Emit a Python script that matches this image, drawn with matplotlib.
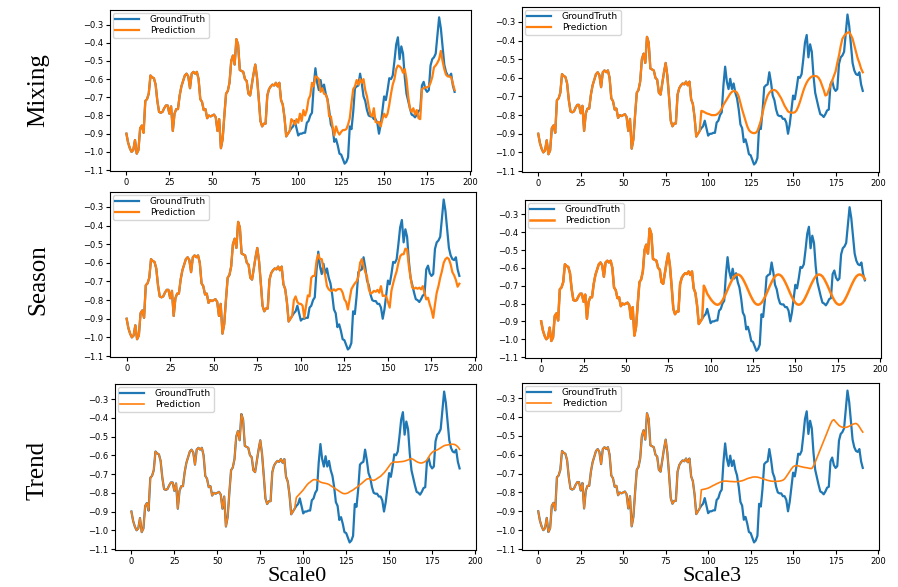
import numpy as np
import matplotlib
matplotlib.use("Agg")
import matplotlib.pyplot as plt

# ground truth, 192 steps (first 96 are the input window)
ground_truth = [
    -0.90, -0.95, -0.98, -1.00, -0.99, -0.935, -1.01, -0.99, -0.87, -0.855,
    -0.895, -0.72, -0.71, -0.68, -0.58, -0.59, -0.595, -0.63, -0.72, -0.78,
    -0.785, -0.78, -0.76, -0.745, -0.745, -0.79, -0.75, -0.885, -0.79, -0.765,
    -0.765, -0.69, -0.64, -0.61, -0.58, -0.57, -0.585, -0.65, -0.57, -0.56,
    -0.57, -0.56, -0.60, -0.71, -0.725, -0.77, -0.765, -0.815, -0.80, -0.805,
    -0.80, -0.795, -0.81, -0.885, -0.82, -0.98, -0.93, -0.80, -0.68, -0.665,
    -0.62, -0.50, -0.47, -0.52, -0.38, -0.41, -0.55, -0.555, -0.56, -0.60,
    -0.61, -0.68, -0.69, -0.63, -0.57, -0.52, -0.59, -0.705, -0.83, -0.86,
    -0.845, -0.845, -0.69, -0.655, -0.64, -0.63, -0.635, -0.62, -0.64, -0.62,
    -0.715, -0.74, -0.81, -0.915, -0.90, -0.885, -0.87, -0.86, -0.83, -0.87,
    -0.91, -0.90, -0.90, -0.895, -0.895, -0.84, -0.83, -0.80, -0.785, -0.64,
    -0.54, -0.62, -0.66, -0.605, -0.66, -0.63, -0.68, -0.71, -0.77, -0.85,
    -0.87, -0.945, -0.93, -0.965, -1.01, -1.015, -1.04, -1.065, -1.055, -1.03,
    -0.86, -0.875, -0.78, -0.65, -0.64, -0.635, -0.57, -0.625, -0.695, -0.72,
    -0.77, -0.80, -0.805, -0.805, -0.82, -0.82, -0.84, -0.90, -0.85, -0.77,
    -0.695, -0.715, -0.66, -0.595, -0.60, -0.58, -0.50, -0.41, -0.37, -0.49,
    -0.42, -0.46, -0.59, -0.68, -0.72, -0.76, -0.795, -0.80, -0.81, -0.795,
    -0.775, -0.77, -0.635, -0.615, -0.655, -0.67, -0.66, -0.525, -0.49, -0.48,
    -0.46, -0.36, -0.26, -0.32, -0.42, -0.52, -0.56, -0.58, -0.585, -0.57,
    -0.635, -0.67,
]

# forecasts for steps 96..191
mixing_scale0 = [
    -0.82, -0.83, -0.85, -0.82, -0.84, -0.79, -0.83, -0.77, -0.80, -0.77,
    -0.71, -0.69, -0.62, -0.64, -0.585, -0.59, -0.60, -0.67, -0.65, -0.68,
    -0.685, -0.71, -0.805, -0.805, -0.86, -0.91, -0.86, -0.89, -0.905, -0.89,
    -0.88, -0.88, -0.875, -0.85, -0.815, -0.73, -0.655, -0.64, -0.605, -0.63,
    -0.60, -0.62, -0.60, -0.66, -0.695, -0.75, -0.795, -0.805, -0.76, -0.835,
    -0.84, -0.835, -0.86, -0.82, -0.79, -0.81, -0.79, -0.74, -0.68, -0.63,
    -0.60, -0.545, -0.525, -0.53, -0.54, -0.565, -0.545, -0.60, -0.695, -0.76,
    -0.78, -0.76, -0.795, -0.77, -0.815, -0.82, -0.655, -0.65, -0.645, -0.645,
    -0.64, -0.62, -0.59, -0.535, -0.525, -0.51, -0.49, -0.445, -0.50, -0.545,
    -0.575, -0.585, -0.585, -0.59, -0.625, -0.66,
]
mixing_scale3 = [
    -0.777, -0.78, -0.785, -0.79, -0.793, -0.796, -0.80, -0.80, -0.80, -0.797,
    -0.79, -0.78, -0.765, -0.745, -0.73, -0.715, -0.70, -0.685, -0.675, -0.67,
    -0.672, -0.68, -0.70, -0.735, -0.77, -0.80, -0.83, -0.86, -0.88, -0.89,
    -0.895, -0.897, -0.895, -0.885, -0.86, -0.83, -0.79, -0.75, -0.72, -0.695,
    -0.68, -0.67, -0.665, -0.665, -0.67, -0.68, -0.695, -0.71, -0.73, -0.75,
    -0.765, -0.78, -0.785, -0.787, -0.787, -0.785, -0.775, -0.755, -0.73, -0.70,
    -0.67, -0.645, -0.625, -0.61, -0.60, -0.593, -0.59, -0.59, -0.592, -0.60,
    -0.615, -0.64, -0.665, -0.695, -0.69, -0.665, -0.64, -0.615, -0.59, -0.565,
    -0.52, -0.48, -0.43, -0.39, -0.375, -0.365, -0.357, -0.355, -0.37, -0.39,
    -0.425, -0.46, -0.495, -0.52, -0.55, -0.57,
]
season_scale0 = [
    -0.80, -0.78, -0.81, -0.82, -0.82, -0.83, -0.895, -0.83, -0.775, -0.78,
    -0.68, -0.67, -0.67, -0.59, -0.555, -0.58, -0.58, -0.635, -0.667, -0.725,
    -0.742, -0.75, -0.75, -0.742, -0.75, -0.742, -0.74, -0.742, -0.76, -0.796,
    -0.81, -0.85, -0.796, -0.742, -0.725, -0.71, -0.70, -0.675, -0.60, -0.58,
    -0.617, -0.65, -0.675, -0.74, -0.765, -0.76, -0.75, -0.755, -0.745, -0.76,
    -0.725, -0.778, -0.775, -0.78, -0.81, -0.84, -0.75, -0.71, -0.675, -0.645,
    -0.60, -0.565, -0.554, -0.554, -0.524, -0.528, -0.617, -0.68, -0.733, -0.739,
    -0.733, -0.739, -0.733, -0.742, -0.725, -0.76, -0.796, -0.787, -0.823, -0.853,
    -0.895, -0.823, -0.76, -0.725, -0.68, -0.644, -0.60, -0.58, -0.572, -0.58,
    -0.608, -0.65, -0.667, -0.692, -0.728, -0.712,
]
season_scale3 = [
    -0.70, -0.72, -0.745, -0.76, -0.775, -0.787, -0.797, -0.804, -0.807, -0.804,
    -0.796, -0.782, -0.764, -0.744, -0.722, -0.70, -0.68, -0.662, -0.648, -0.64,
    -0.637, -0.64, -0.648, -0.662, -0.68, -0.70, -0.722, -0.744, -0.764, -0.782,
    -0.796, -0.804, -0.807, -0.804, -0.796, -0.782, -0.764, -0.744, -0.722, -0.70,
    -0.68, -0.662, -0.648, -0.64, -0.637, -0.64, -0.648, -0.662, -0.68, -0.70,
    -0.722, -0.744, -0.764, -0.782, -0.796, -0.804, -0.807, -0.804, -0.796, -0.782,
    -0.764, -0.744, -0.722, -0.70, -0.68, -0.662, -0.648, -0.64, -0.637, -0.64,
    -0.648, -0.662, -0.68, -0.70, -0.722, -0.744, -0.764, -0.782, -0.796, -0.804,
    -0.807, -0.804, -0.796, -0.782, -0.764, -0.744, -0.722, -0.70, -0.68, -0.662,
    -0.648, -0.64, -0.637, -0.64, -0.648, -0.662,
]
trend_scale0 = [
    -0.825, -0.815, -0.805, -0.795, -0.785, -0.772, -0.76, -0.75, -0.743, -0.736,
    -0.73, -0.73, -0.732, -0.737, -0.743, -0.746, -0.748, -0.75, -0.752, -0.756,
    -0.762, -0.768, -0.774, -0.78, -0.786, -0.792, -0.798, -0.803, -0.805, -0.804,
    -0.801, -0.795, -0.79, -0.785, -0.778, -0.772, -0.765, -0.757, -0.75, -0.742,
    -0.734, -0.727, -0.725, -0.727, -0.732, -0.734, -0.73, -0.724, -0.718, -0.712,
    -0.703, -0.694, -0.683, -0.67, -0.657, -0.645, -0.638, -0.636, -0.636, -0.636,
    -0.635, -0.634, -0.633, -0.631, -0.628, -0.625, -0.62, -0.618, -0.622, -0.628,
    -0.634, -0.638, -0.641, -0.641, -0.638, -0.633, -0.625, -0.61, -0.595, -0.585,
    -0.578, -0.575, -0.571, -0.566, -0.56, -0.554, -0.549, -0.546, -0.545, -0.543,
    -0.541, -0.541, -0.542, -0.547, -0.555, -0.568,
]
trend_scale3 = [
    -0.786, -0.784, -0.782, -0.78, -0.777, -0.773, -0.768, -0.763, -0.759, -0.754,
    -0.75, -0.746, -0.743, -0.74, -0.74, -0.74, -0.741, -0.742, -0.742, -0.743,
    -0.743, -0.743, -0.742, -0.74, -0.738, -0.735, -0.731, -0.727, -0.724, -0.722,
    -0.719, -0.718, -0.718, -0.719, -0.721, -0.724, -0.727, -0.73, -0.733, -0.736,
    -0.738, -0.74, -0.741, -0.741, -0.741, -0.741, -0.74, -0.738, -0.735, -0.728,
    -0.716, -0.702, -0.688, -0.675, -0.664, -0.659, -0.658, -0.659, -0.662, -0.664,
    -0.666, -0.668, -0.669, -0.671, -0.673, -0.673, -0.66, -0.64, -0.617, -0.595,
    -0.572, -0.55, -0.527, -0.505, -0.482, -0.459, -0.437, -0.42, -0.414, -0.425,
    -0.435, -0.445, -0.451, -0.454, -0.455, -0.455, -0.453, -0.449, -0.444, -0.439,
    -0.436, -0.434, -0.44, -0.452, -0.467, -0.48,
]

input_len = 96
row_labels = ["Mixing", "Season", "Trend"]
col_labels = ["Scale0", "Scale3"]
xticks = [0, 25, 50, 75, 100, 125, 150, 175, 200]
yticks = [-1.1, -1.0, -0.9, -0.8, -0.7, -0.6, -0.5, -0.4, -0.3]

# pixel boxes (left, top, right, bottom) of the six pasted plots
boxes = [
    [(110, 10, 471, 171), (522, 7, 879, 172)],
    [(110, 192, 476, 357), (525, 200, 881, 358)],
    [(115, 384, 476, 550), (522, 383, 879, 550)],
]
forecasts = [
    [mixing_scale0, mixing_scale3],
    [season_scale0, season_scale3],
    [trend_scale0, trend_scale3],
]
pred_lw = [[1.6, 1.6], [1.6, 1.8], [1.2, 1.2]]

W, H = 898, 587
fig = plt.figure(figsize=(W / 100, H / 100), dpi=100)

gt = np.array(ground_truth)
steps = np.arange(len(gt))

for r in range(3):
    for c in range(2):
        l, t, rr, b = boxes[r][c]
        ax = fig.add_axes([l / W, 1 - b / H, (rr - l) / W, (b - t) / H])
        pred = np.concatenate([gt[:input_len], forecasts[r][c]])
        ax.plot(steps, gt, color="#1f77b4", lw=1.6, label="GroundTruth")
        ax.plot(steps, pred, color="#ff7f0e", lw=pred_lw[r][c], label="Prediction")
        ax.set_xticks(xticks)
        ax.set_yticks(yticks)
        ax.set_yticklabels([f"{v:.1f}".replace("-", "\u2212") for v in yticks])
        ax.tick_params(labelsize=6, length=3, width=0.8, pad=2)
        ax.legend(loc="upper left", fontsize=6.5, borderpad=0.3,
                  labelspacing=0.2, handlelength=2.6, handletextpad=1.2,
                  borderaxespad=0.3)

row_y = [90, 280, 470]
for name, y in zip(row_labels, row_y):
    fig.text(38 / W, 1 - y / H, name, rotation=90, ha="center", va="center",
             family="Liberation Serif", fontsize=18)

col_x = [297, 712]
for name, x in zip(col_labels, col_x):
    fig.text(x / W, 1 - 586 / H, name, ha="center", va="bottom",
             family="Liberation Serif", fontsize=16)

fig.savefig("out.png", dpi=100)
